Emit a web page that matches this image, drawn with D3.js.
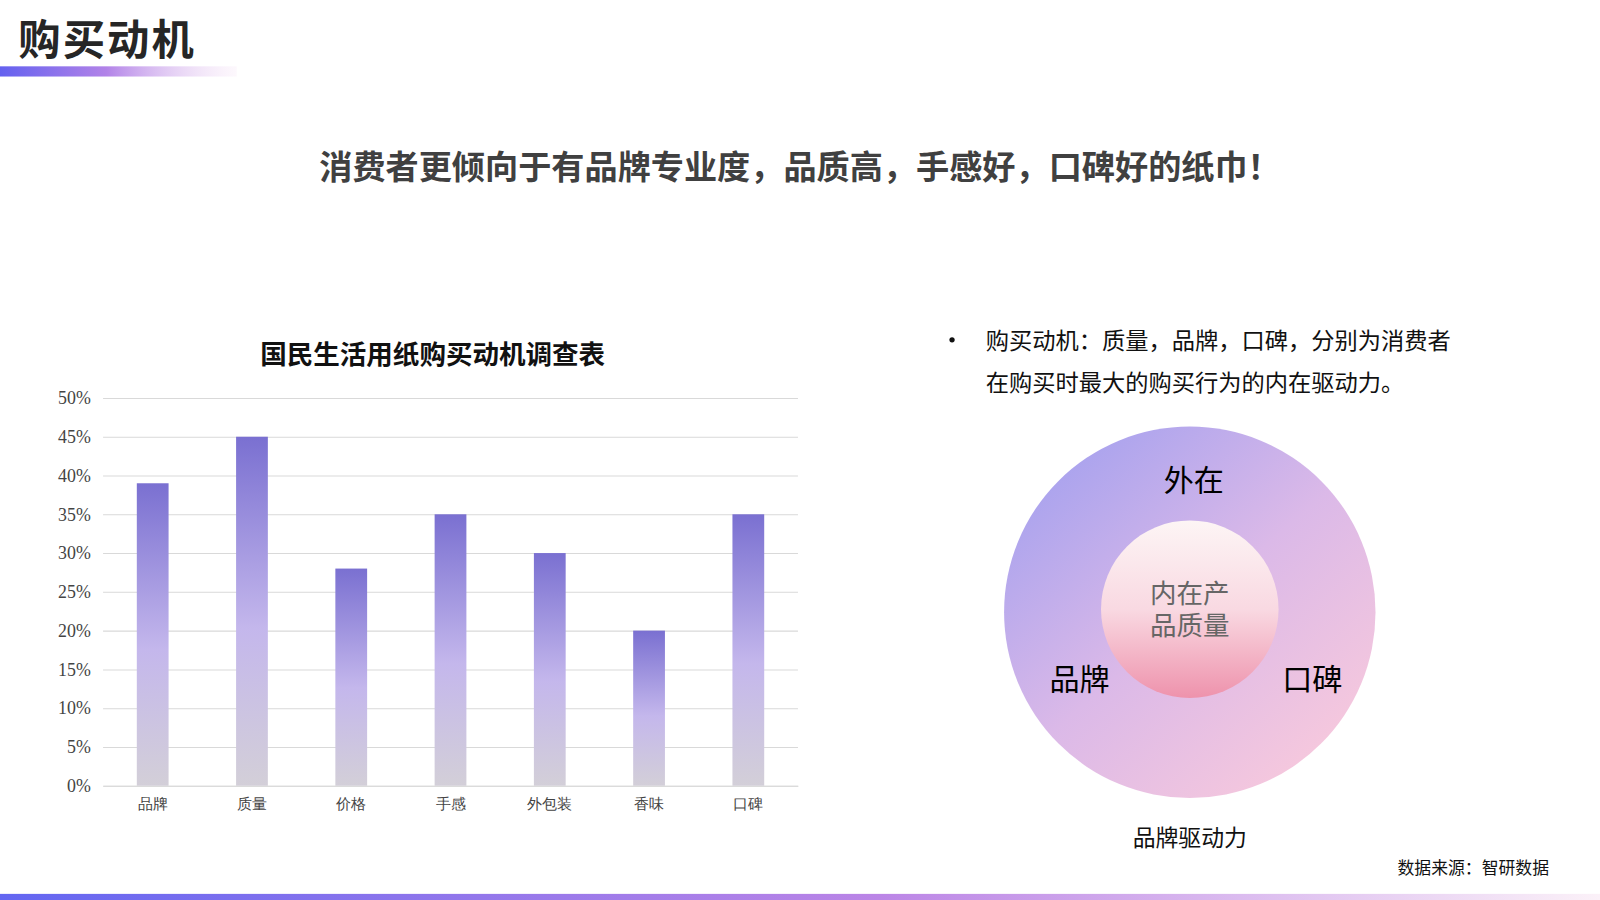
<!DOCTYPE html>
<html>
<head>
<meta charset="utf-8">
<script src="https://cdn.jsdelivr.net/npm/d3@7"></script>
<style>
  body { margin: 0; background: #fff; }
  svg { display: block; font-family: "Noto Sans CJK SC", "Noto Sans", sans-serif; }
</style>
</head>
<body>
<div id="chart"></div>
<script>
const categories = ["品牌", "质量", "价格", "手感", "外包装", "香味", "口碑"];
const values = [39, 45, 28, 35, 30, 20, 35];
const yTicks = [0, 5, 10, 15, 20, 25, 30, 35, 40, 45, 50];
const ringLabels = ["外在", "品牌", "口碑"];
const coreLines = ["内在产", "品质量"];
const bulletLines = ["购买动机：质量，品牌，口碑，分别为消费者", "在购买时最大的购买行为的内在驱动力。"];

const W = 1600, H = 900;
// layout below is worked out on a 1568-wide slide, scaled up to the window
const base = 1568;
const k = W / base;

const svg = d3.select("#chart").append("svg")
    .attr("width", W)
    .attr("height", H);

const defs = svg.append("defs");
const root = svg.append("g").attr("transform", `scale(${k})`);

// gradients
function linear(id, x1, y1, x2, y2, stops) {
    const g = defs.append("linearGradient")
        .attr("id", id)
        .attr("x1", x1).attr("y1", y1)
        .attr("x2", x2).attr("y2", y2);
    stops.forEach(s => g.append("stop")
        .attr("offset", s[0])
        .attr("stop-color", s[1])
        .attr("stop-opacity", s.length > 2 ? s[2] : 1));
}
linear("barGrad", 0, 0, 0, 1, [[0, "#7a70d1"], [0.55, "#c4b7ec"], [1, "#d3cfd8"]]);
linear("headGrad", 0, 0, 1, 0, [[0, "#6461ef"], [0.45, "#b283e8"], [1, "#f3dcf3", 0.2]]);
linear("footGrad", 0, 0, 1, 0, [[0, "#6366f1"], [0.55, "#bb85e6"], [1, "#fbf1f8"]]);
linear("outerGrad", 0.15, 0.1, 0.85, 0.9, [[0, "#aaa3ee"], [0.5, "#dbb9e8"], [1, "#f6c8dd"]]);
linear("innerGrad", 0, 0, 0, 1, [[0, "#fdf5f5"], [0.5, "#f9d9e2"], [1, "#ee92ac"]]);

// header
root.append("text")
    .attr("x", 18).attr("y", 54)
    .attr("font-size", 41.5).attr("font-weight", 700)
    .attr("fill", "#262626")
    .attr("letter-spacing", 2)
    .text("购买动机");
root.append("rect")
    .attr("x", 0).attr("y", 65)
    .attr("width", 232).attr("height", 10)
    .attr("fill", "url(#headGrad)");

root.append("text")
    .attr("x", 784).attr("y", 175)
    .attr("text-anchor", "middle")
    .attr("font-size", 32.5).attr("font-weight", 700)
    .attr("fill", "#404040")
    .text("消费者更倾向于有品牌专业度，品质高，手感好，口碑好的纸巾！");

// bar chart
const margin = {left: 101, right: 782, top: 390, bottom: 770};
const x = d3.scaleBand()
    .domain(categories)
    .range([margin.left, margin.right])
    .paddingInner(0.68)
    .paddingOuter(0.34);
const y = d3.scaleLinear()
    .domain([0, 50])
    .range([margin.bottom, margin.top]);

root.append("text")
    .attr("x", 424).attr("y", 357)
    .attr("text-anchor", "middle")
    .attr("font-size", 26).attr("font-weight", 700)
    .attr("fill", "#111")
    .text("国民生活用纸购买动机调查表");

const yAxis = root.append("g")
    .attr("transform", `translate(${margin.left},0)`)
    .call(d3.axisLeft(y)
        .tickValues(yTicks)
        .tickSize(-(margin.right - margin.left))
        .tickFormat(d => d + "%"));
yAxis.select(".domain").remove();
yAxis.selectAll(".tick line").attr("stroke", "#d9d9d9");
yAxis.selectAll(".tick text")
    .attr("x", -12)
    .attr("font-family", "'Liberation Serif', serif")
    .attr("font-size", 17.5)
    .attr("fill", "#444");

const xAxis = root.append("g")
    .attr("transform", `translate(0,${margin.bottom})`)
    .call(d3.axisBottom(x).tickSize(0));
xAxis.select(".domain").attr("stroke", "#d9d9d9");
xAxis.selectAll(".tick text")
    .attr("dy", "1.4em")
    .attr("font-size", 14.5)
    .attr("font-weight", 300)
    .attr("fill", "#444");

root.selectAll("rect.bar")
    .data(values)
    .enter()
    .append("rect")
    .attr("class", "bar")
    .attr("x", (d, i) => x(categories[i]))
    .attr("y", d => y(d))
    .attr("width", x.bandwidth())
    .attr("height", d => y(0) - y(d))
    .attr("fill", "url(#barGrad)");

// bullet text
root.append("circle")
    .attr("cx", 933).attr("cy", 333).attr("r", 2.6)
    .attr("fill", "#111");
root.selectAll("text.bullet")
    .data(bulletLines)
    .enter()
    .append("text")
    .attr("class", "bullet")
    .attr("x", 966)
    .attr("y", (d, i) => 342 + i * 41)
    .attr("font-size", 22.8)
    .attr("fill", "#111")
    .text(d => d);

// circle diagram
const cx = 1166, cy = 600;
root.append("circle")
    .attr("cx", cx).attr("cy", cy).attr("r", 182)
    .attr("fill", "url(#outerGrad)");
root.append("circle")
    .attr("cx", cx).attr("cy", 597).attr("r", 87)
    .attr("fill", "url(#innerGrad)");

const ringPos = [[1170, 481], [1058, 676], [1286, 676]];
root.selectAll("text.ring")
    .data(ringLabels)
    .enter()
    .append("text")
    .attr("class", "ring")
    .attr("x", (d, i) => ringPos[i][0])
    .attr("y", (d, i) => ringPos[i][1])
    .attr("text-anchor", "middle")
    .attr("font-size", 29.5)
    .attr("fill", "#000")
    .text(d => d);

root.append("text")
    .attr("class", "core")
    .attr("text-anchor", "middle")
    .attr("font-size", 26)
    .attr("fill", "#666")
    .selectAll("tspan")
    .data(coreLines)
    .enter()
    .append("tspan")
    .attr("x", cx)
    .attr("y", (d, i) => 591 + i * 31)
    .text(d => d);

root.append("text")
    .attr("x", cx).attr("y", 829)
    .attr("text-anchor", "middle")
    .attr("font-size", 22.4)
    .attr("fill", "#111")
    .text("品牌驱动力");

// footer
root.append("text")
    .attr("x", 1518).attr("y", 857)
    .attr("text-anchor", "end")
    .attr("font-size", 16.5)
    .attr("fill", "#111")
    .text("数据来源：智研数据");
root.append("rect")
    .attr("x", 0).attr("y", 876)
    .attr("width", base).attr("height", 7)
    .attr("fill", "url(#footGrad)");
</script>
</body>
</html>
